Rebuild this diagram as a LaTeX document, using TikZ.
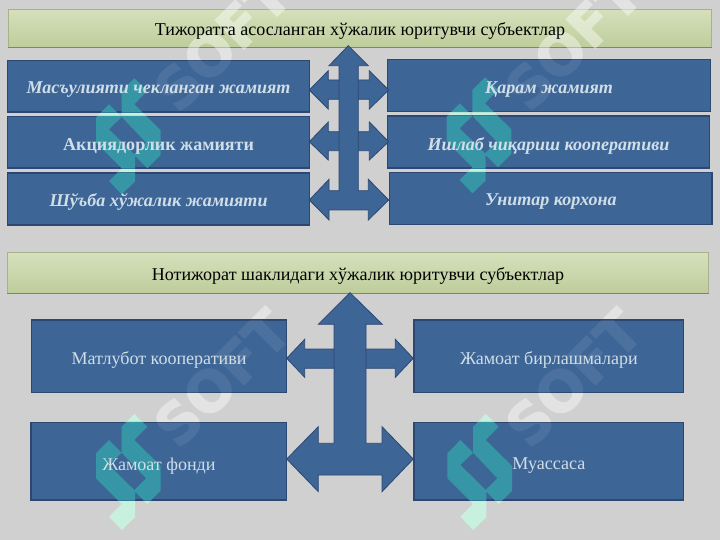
\documentclass[tikz,border=0pt]{standalone}
\usepackage{fontspec}
\setmainfont{Liberation Serif}
\newfontfamily\softfont[FakeBold=2.5]{DejaVu Sans Bold}
\definecolor{pagegrey}{RGB}{208,208,208}
\definecolor{boxblue}{RGB}{61,101,150}
\definecolor{boxedge}{RGB}{44,72,114}
\definecolor{paletext}{RGB}{208,222,232}
\definecolor{bartop}{RGB}{214,224,188}
\definecolor{barbot}{RGB}{190,205,155}
\definecolor{baredge}{RGB}{168,178,138}
\definecolor{barshade}{RGB}{125,135,100}
\definecolor{mint}{RGB}{200,240,222}
\definecolor{teal}{RGB}{54,150,166}
\tikzset{
  barbox/.style={draw=baredge,line width=0.7bp,top color=bartop,bottom color=barbot,inner sep=0pt},
  bluebox/.style={draw=boxedge,line width=1.2bp,fill=boxblue,inner sep=0pt},
  blockarrow/.style={draw=boxedge,line width=0.8bp,fill=boxblue,line join=miter},
  bartext/.style={text=black,font=\fontsize{18.1}{20}\selectfont},
  boldtext/.style={text=paletext,font=\fontsize{18.1}{20}\selectfont\bfseries\itshape},
  uprighttext/.style={text=paletext,font=\fontsize{18.1}{20}\selectfont\bfseries},
  plaintext/.style={text=paletext,font=\fontsize{18.1}{20}\selectfont},
  softmark/.style={text=white,rotate=45,inner sep=0pt,font=\softfont\fontsize{56}{56}\selectfont}
}
\newcommand{\wmlogo}[3]{%
  \fill[#3,even odd rule,shift={(#1,#2)}]
    (44.3,4)--(57.3,16.7)--(44.3,30)--(70.7,56)--(70.7,80.7)--(57.3,94)--(45,81.7)--(45,107.3)
    --(31.7,120)--(19,106.7)--(31.7,94)--(6,68.3)--(6,43.3)--(19,30)--(31.7,42.7)--(31.7,16.7)--cycle
    (31.7,42.7)--(56,68.3)--(44.3,80)--(19,55)--cycle;}
\newcommand{\wmsoft}[4]{%
  \begin{scope}[transparency group,opacity=#3]
  \node[softmark] (#4) at (#1+132,#2-32) {SOFT};
  \end{scope}}
\begin{document}
\begin{tikzpicture}[x=1bp,y=-1bp]
\useasboundingbox (0,0) rectangle (720,540);
\fill[pagegrey] (0,0) rectangle (720,540);
% title bars
\node[barbox,minimum width=703.5bp,minimum height=38.3bp] (bar1) at (360,28.2) {};
\node[barbox,minimum width=701.4bp,minimum height=40.6bp] (bar2) at (358,273) {};
\draw[barshade,line width=1.2bp] (bar1.south west)--(bar1.south east);
\draw[barshade,line width=1.2bp] (bar2.south west)--(bar2.south east);
% watermark over page and bars
\wmsoft{90}{74.3}{0.42}{sa}
\wmsoft{441}{73.3}{0.42}{sb}
\wmsoft{90}{410}{0.42}{sc}
\wmsoft{441.4}{410}{0.42}{sd}
\wmlogo{90}{74.3}{mint}
\wmlogo{440.7}{73.3}{mint}
\wmlogo{90}{410}{mint}
\wmlogo{441.4}{410}{mint}
% blue boxes
\node[bluebox,minimum width=301.8bp,minimum height=51.5bp] (l1) at (158.6,86.3) {};
\node[bluebox,minimum width=301.8bp,minimum height=51.5bp] (l2) at (158.6,142.3) {};
\node[bluebox,minimum width=301.8bp,minimum height=52bp] (l3) at (158.6,199) {};
\node[bluebox,minimum width=323.2bp,minimum height=52bp] (r1) at (549.1,85.5) {};
\node[bluebox,minimum width=322bp,minimum height=52bp] (r2) at (548.5,142) {};
\node[bluebox,minimum width=322.3bp,minimum height=52bp] (r3) at (550.9,198.5) {};
\node[bluebox,minimum width=255.4bp,minimum height=72.7bp] (m1) at (159,356.4) {};
\node[bluebox,minimum width=269.7bp,minimum height=72.7bp] (m2) at (548.9,356.4) {};
\node[bluebox,minimum width=255.7bp,minimum height=77.7bp] (m3) at (158.9,461.2) {};
\node[bluebox,minimum width=269.7bp,minimum height=77.7bp] (m4) at (548.9,461.2) {};
% watermark over boxes
\begin{scope}
\clip (l1.south west) rectangle (l1.north east)
      (l2.south west) rectangle (l2.north east)
      (l3.south west) rectangle (l3.north east)
      (r1.south west) rectangle (r1.north east)
      (r2.south west) rectangle (r2.north east)
      (r3.south west) rectangle (r3.north east)
      (m1.south west) rectangle (m1.north east)
      (m2.south west) rectangle (m2.north east)
      (m3.south west) rectangle (m3.north east)
      (m4.south west) rectangle (m4.north east);
\wmsoft{90}{74.3}{0.08}{ta}
\wmsoft{441}{73.3}{0.08}{tb}
\wmsoft{90}{410}{0.08}{tc}
\wmsoft{441.4}{410}{0.08}{td}
\wmlogo{90}{74.3}{teal}
\wmlogo{440.7}{73.3}{teal}
\wmlogo{90}{410}{teal}
\wmlogo{441.4}{410}{teal}
\end{scope}
% block arrows, upper group
\draw[blockarrow] (309.3,90)--(328.3,70.7)--(328.3,80)--(369.3,80)--(369.3,70.7)--(388.7,90)--(369.3,109)--(369.3,99.3)--(328.3,99.3)--(328.3,109)--cycle;
\draw[blockarrow] (309.3,141.7)--(328.3,122)--(328.3,131.7)--(369.3,131.7)--(369.3,122)--(388.7,141.7)--(369.3,160)--(369.3,150.7)--(328.3,150.7)--(328.3,160)--cycle;
\draw[blockarrow] (348.3,45.7)--(368.3,65.7)--(358.3,65.7)--(358.3,190.7)--(368.3,190.7)--(368.3,179.3)--(388.7,200)--(368.3,220)--(368.3,210)--(329,210)--(329,220)--(309.3,200)--(329,179.3)--(329,190.7)--(339,190.7)--(339,65.7)--(329,65.7)--cycle;
% block arrows, lower group
\draw[blockarrow] (286.7,358.3)--(304.7,339.3)--(304.7,349)--(395.3,349)--(395.3,339.3)--(413.3,358.3)--(395.3,377.3)--(395.3,368.3)--(304.7,368.3)--(304.7,377.3)--cycle;
\draw[blockarrow] (350,292.7)--(382.3,324.3)--(366,324.3)--(366,443.3)--(382,443.3)--(382,426.7)--(413.3,459)--(382,491.7)--(382,475)--(318.3,475)--(318.3,491.7)--(286.7,459)--(318.3,426.7)--(318.3,443.3)--(334,443.3)--(334,324.3)--(318.3,324.3)--cycle;
% texts
\node[bartext] (t0) at ([yshift=-2.7bp]bar1.center) {Тижоратга асосланган хўжалик юритувчи субъектлар};
\node[bartext] (t9) at ([yshift=-3.2bp]bar2.center) {Нотижорат шаклидаги хўжалик юритувчи субъектлар};
\node[boldtext] (t1) at ([yshift=-3bp]l1.center) {Масъулияти чекланган жамият};
\node[uprighttext] (t2) at ([yshift=-3.8bp]l2.center) {Акциядорлик жамияти};
\node[boldtext] (t3) at ([yshift=-3bp]l3.center) {Шўъба хўжалик жамияти};
\node[boldtext] (t4) at ([yshift=-4bp]r1.center) {Қарам жамият};
\node[boldtext] (t5) at ([yshift=-4bp]r2.center) {Ишлаб чиқариш кооперативи};
\node[boldtext] (t6) at ([yshift=-3.5bp]r3.center) {Унитар корхона};
\node[plaintext] (t7) at ([yshift=-3.5bp]m1.center) {Матлубот кооперативи};
\node[plaintext] (t8) at ([yshift=-3.5bp]m2.center) {Жамоат бирлашмалари};
\node[plaintext] (t10) at ([yshift=-4.5bp]m3.center) {Жамоат фонди};
\node[plaintext] (t11) at ([yshift=-4.5bp]m4.center) {Муассаса};
\end{tikzpicture}
\end{document}
